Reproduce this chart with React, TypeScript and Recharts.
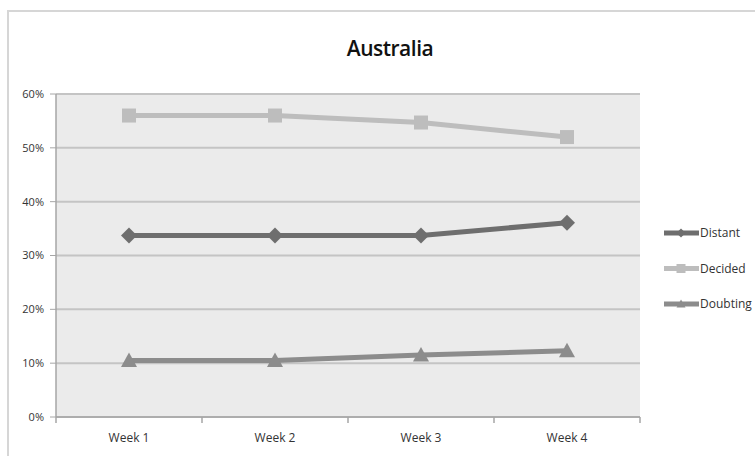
import React from "react";
import { LineChart, Line, XAxis, YAxis, CartesianGrid } from "recharts";

const weeks = ["Week 1", "Week 2", "Week 3", "Week 4"];
const distant = [33.7, 33.7, 33.7, 36.1];
const decided = [56, 56, 54.7, 52];
const doubting = [10.5, 10.5, 11.5, 12.3];
const yTicks = [0, 10, 20, 30, 40, 50, 60];

const data = weeks.map((w, i) => ({ week: w, Distant: distant[i], Decided: decided[i], Doubting: doubting[i] }));

const C_DIST = "#6e6e6e";
const C_DEC = "#bdbdbd";
const C_DOUBT = "#8c8c8c";
const FONT = "'Open Sans', 'DejaVu Sans', sans-serif";

const Marker = ({ cx, cy, shape, color, s = 7 }: any) => {
  if (cx == null || cy == null) return null;
  if (shape === "square") return <rect x={cx - s} y={cy - s} width={2 * s} height={2 * s} fill={color} />;
  if (shape === "diamond")
    return <polygon points={`${cx},${cy - s} ${cx + s},${cy} ${cx},${cy + s} ${cx - s},${cy}`} fill={color} />;
  return <polygon points={`${cx},${cy - s} ${cx + s},${cy + s * 0.8} ${cx - s},${cy + s * 0.8}`} fill={color} />;
};

const XTick = (props: any) => {
  const { x, y, payload, index, visibleTicksCount } = props;
  const half = 73;
  return (
    <g>
      <line x1={x - half} x2={x - half} y1={y - 8} y2={y - 2} stroke="#a6a6a6" strokeWidth={1.5} />
      {index === (visibleTicksCount ?? 4) - 1 && (
        <line x1={x + half} x2={x + half} y1={y - 8} y2={y - 2} stroke="#a6a6a6" strokeWidth={1.5} />
      )}
      <text x={x} y={y + 17} textAnchor="middle" fontSize={12} fill="#333" fontFamily={FONT}>
        {payload.value}
      </text>
    </g>
  );
};

const legendItems = [
  { name: "Distant", color: C_DIST, shape: "diamond" },
  { name: "Decided", color: C_DEC, shape: "square" },
  { name: "Doubting", color: C_DOUBT, shape: "triangle" },
];

const LegendBox = () => (
  <svg width={93} height={90} style={{ position: "absolute", left: 662, top: 221 }}>
    {legendItems.map((it, i) => {
      const y = 12 + i * 35.5;
      return (
        <g key={it.name}>
          <line x1={2} x2={37} y1={y} y2={y} stroke={it.color} strokeWidth={5} />
          <Marker cx={19} cy={y} shape={it.shape} color={it.color} s={4.5} />
          <text x={38} y={y + 4} fontSize={12} fill="#333" fontFamily={FONT}>
            {it.name}
          </text>
        </g>
      );
    })}
  </svg>
);

export default function App() {
  return (
    <div style={{ position: "absolute", left: 0, top: 0, width: 755, height: 456, background: "#fff", overflow: "hidden" }}>
      <div style={{ position: "absolute", left: 7, top: 10, width: 760, height: 460, border: "2px solid #d6d6d6", boxSizing: "border-box" }} />
      <div style={{ position: "absolute", left: 0, top: 34, width: 780, textAlign: "center", fontFamily: FONT, fontSize: 21, fontWeight: 600, color: "#111", letterSpacing: -0.5 }}>
        Australia
      </div>
      <div style={{ position: "absolute", left: 0, top: 0 }}>
        <LineChart width={755} height={456} data={data} margin={{ top: 94, right: 115, left: 0, bottom: 0 }}>
          <CartesianGrid vertical={false} fill="#ebebeb" stroke="#c4c4c4" strokeWidth={2} />
          <XAxis dataKey="week" scale="band" height={39} axisLine={{ stroke: "#a6a6a6", strokeWidth: 1.5 }} tickLine={false} tick={<XTick />} interval={0} />
          <YAxis
            width={56}
            domain={[0, 60]}
            ticks={yTicks}
            tickFormatter={(v: number) => `${v}%`}
            axisLine={{ stroke: "#a6a6a6", strokeWidth: 1.5 }}
            tickLine={{ stroke: "#a6a6a6" }}
            tickSize={6}
            tickMargin={6}
            tick={{ fontSize: 11, fill: "#333", fontFamily: FONT }}
          />
          <Line dataKey="Distant" stroke={C_DIST} strokeWidth={5} isAnimationActive={false} dot={(p: any) => <Marker key={p.index} {...p} shape="diamond" color={C_DIST} s={8} />} />
          <Line dataKey="Decided" stroke={C_DEC} strokeWidth={5} isAnimationActive={false} dot={(p: any) => <Marker key={p.index} {...p} shape="square" color={C_DEC} s={7} />} />
          <Line dataKey="Doubting" stroke={C_DOUBT} strokeWidth={5} isAnimationActive={false} dot={(p: any) => <Marker key={p.index} {...p} shape="triangle" color={C_DOUBT} s={8} />} />
        </LineChart>
      </div>
      <LegendBox />
    </div>
  );
}
